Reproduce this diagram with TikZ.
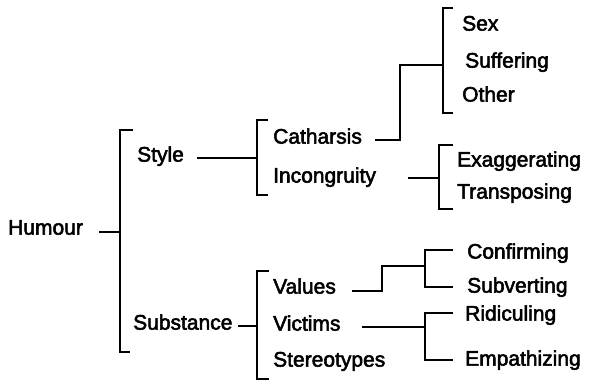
\documentclass[tikz,border=0pt]{standalone}
\usepackage{fontspec}
\setmainfont[FakeBold=2.5]{Liberation Sans}
\begin{document}
\begin{tikzpicture}[x=1pt,y=-1pt,
  lbl/.style={anchor=west,inner sep=0pt,text height=0.72em,text depth=0pt,font=\fontsize{21}{24}\selectfont},
  ln/.style={line width=1.7pt,line cap=butt,line join=miter}]
\useasboundingbox (0,0) rectangle (589,381);
% nodes
\node[lbl] (humour) at (8,231) {Humour};
\node[lbl] (style) at (137,158) {Style};
\node[lbl] (substance) at (133,326) {Substance};
\node[lbl] (catharsis) at (273,140) {Catharsis};
\node[lbl] (incongruity) at (273,179) {Incongruity};
\node[lbl] (values) at (273,290) {Values};
\node[lbl] (victims) at (273,327) {Victims};
\node[lbl] (stereotypes) at (273,363) {Stereotypes};
\node[lbl] (sex) at (462,27) {Sex};
\node[lbl] (suffering) at (465,64) {Suffering};
\node[lbl] (other) at (462,98) {Other};
\node[lbl] (exag) at (457,163) {Exaggerating};
\node[lbl] (transp) at (457,195) {Transposing};
\node[lbl] (confirm) at (467,255) {Confirming};
\node[lbl] (subvert) at (467,289) {Subverting};
\node[lbl] (ridic) at (465,317) {Ridiculing};
\node[lbl] (empath) at (465,362) {Empathizing};
% coordinates
\coordinate (h0) at (99,232);   \coordinate (b1) at (120,232);
\coordinate (s0) at (197,158);  \coordinate (b2) at (257,158);
\coordinate (u0) at (238,326);  \coordinate (b3) at (257,326);
\coordinate (c0) at (375,140);  \coordinate (b4) at (443,65);
\coordinate (i0) at (408,178);  \coordinate (b5) at (439,178);
\coordinate (v0) at (352,291);  \coordinate (b6) at (425,266);
\coordinate (w0) at (362,327);  \coordinate (b7) at (425,327);
% connectors
\draw[ln] (h0) -- (b1);
\draw[ln] (s0) -- (b2);
\draw[ln] (u0) -- (b3);
\draw[ln] (c0) -- (400,140) -- (400,65) -- (b4);
\draw[ln] (i0) -- (b5);
\draw[ln] (v0) -- (382,291) -- (382,266) -- (b6);
\draw[ln] (w0) -- (b7);
% brackets
\draw[ln] (133,130) -- (120,130) -- (120,352) -- (130,352);
\draw[ln] (268,120) -- (257,120) -- (257,195) -- (268,195);
\draw[ln] (269,271) -- (257,271) -- (257,379) -- (269,379);
\draw[ln] (453,8) -- (443,8) -- (443,113) -- (453,113);
\draw[ln] (453,145) -- (439,145) -- (439,209) -- (453,209);
\draw[ln] (453,250) -- (425,250) -- (425,287) -- (453,287);
\draw[ln] (453,313) -- (425,313) -- (425,360) -- (453,360);
\end{tikzpicture}
\end{document}
